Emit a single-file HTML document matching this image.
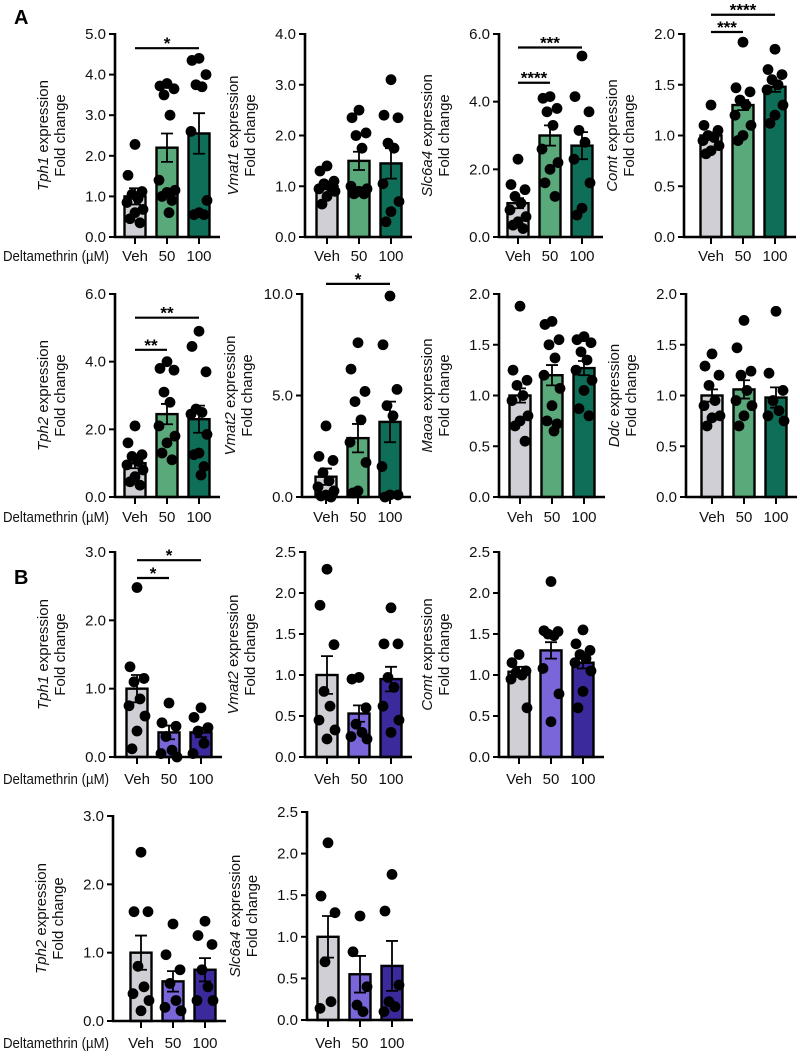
<!DOCTYPE html>
<html><head><meta charset="utf-8"><style>
html,body{margin:0;padding:0;background:#fff;}
svg{display:block;font-family:"Liberation Sans",Arial,sans-serif;}
</style></head><body>
<svg id="fig" width="800" height="1056" viewBox="0 0 800 1056">
<text x="14" y="24" font-size="20" font-weight="bold">A</text>
<text x="14" y="584" font-size="20" font-weight="bold">B</text>
</svg>
<script>
const groups = ["Veh","50","100"];
// A row 1
const tph1A_means=[1.0,2.2,2.55]; const tph1A_sem=[0.2,0.35,0.5];
const tph1A_veh=[2.28,1.52,1.12,1.05,0.95,0.85,0.68,0.6,0.45,0.35];
const tph1A_50=[3.78,3.72,3.65,3.5,3.0,1.4,1.15,1.1,1.0,0.9,0.6];
const tph1A_100=[4.4,4.35,4.0,3.75,3.7,2.6,0.9,0.6,0.55,0.55];
const vmat1A_means=[1.0,1.5,1.45]; const vmat1A_sem=[0.06,0.18,0.3];
const vmat1A_veh=[1.4,1.3,1.1,1.05,1.0,0.95,0.9,0.8,0.65];
const vmat1A_50=[2.5,2.35,2.05,2.0,1.75,1.0,0.95,0.9,0.85,0.85];
const vmat1A_100=[3.1,2.4,2.35,1.85,1.75,1.05,0.7,0.5,0.3];
const slcA_means=[1.0,3.0,2.7]; const slcA_sem=[0.15,0.3,0.4];
const slcA_veh=[2.3,1.55,1.4,1.2,1.0,0.8,0.6,0.45,0.35,0.25];
const slcA_50=[4.15,4.1,3.8,3.7,3.3,2.6,2.2,2.0,1.6,1.2];
const slcA_100=[5.35,4.15,3.7,3.15,2.8,2.3,1.6,0.85,0.65];
const comtA_means=[1.0,1.3,1.48]; const comtA_sem=[0.03,0.05,0.05];
const comtA_veh=[1.3,1.1,1.05,1.0,0.98,0.95,0.9,0.85,0.82];
const comtA_50=[1.92,1.47,1.43,1.35,1.3,1.2,1.1,1.0,0.95];
const comtA_100=[1.85,1.65,1.6,1.55,1.5,1.45,1.3,1.2,1.12];
// A row 2
const tph2A_means=[1.0,2.45,2.3]; const tph2A_sem=[0.15,0.3,0.4];
const tph2A_veh=[2.1,1.6,1.25,1.2,1.05,0.95,0.8,0.6,0.45,0.35];
const tph2A_50=[4.0,3.8,3.75,3.1,2.8,2.1,1.8,1.6,1.3,1.1];
const tph2A_100=[4.9,4.45,3.7,2.6,2.5,2.45,1.85,1.3,1.25,0.9,0.65];
const vmat2A_means=[1.0,2.9,3.7]; const vmat2A_sem=[0.4,0.7,1.0];
const vmat2A_veh=[3.5,2.0,1.8,1.2,0.8,0.5,0.3,0.1,0.05,0.0];
const vmat2A_50=[7.6,6.3,5.2,4.7,3.8,2.7,1.7,0.3,0.2];
const vmat2A_100=[9.9,7.5,5.3,4.5,4.0,1.5,0.1,0.1,0.0];
const maoaA_means=[1.0,1.2,1.27]; const maoaA_sem=[0.07,0.1,0.07];
const maoaA_veh=[1.88,1.25,1.15,1.1,1.0,0.95,0.8,0.75,0.7,0.55];
const maoaA_50=[1.73,1.7,1.55,1.5,1.37,1.2,1.07,0.9,0.75,0.72,0.65];
const maoaA_100=[1.58,1.55,1.52,1.43,1.35,1.25,1.15,1.05,0.87,0.8];
const ddcA_means=[1.0,1.06,0.98]; const ddcA_sem=[0.06,0.09,0.1];
const ddcA_veh=[1.41,1.29,1.2,1.1,0.95,0.9,0.8,0.78,0.7];
const ddcA_50=[1.74,1.47,1.24,1.2,1.05,0.95,0.9,0.8,0.7];
const ddcA_100=[1.83,1.22,1.05,0.95,0.85,0.8,0.75];
// B row 1
const tph1B_means=[1.0,0.36,0.36]; const tph1B_sem=[0.2,0.1,0.07];
const tph1B_veh=[2.48,1.32,1.15,1.1,0.85,0.75,0.6,0.38,0.12];
const tph1B_50=[0.79,0.5,0.45,0.3,0.1,0.05,0.0];
const tph1B_100=[0.72,0.58,0.43,0.38,0.2,0.05];
const vmat2B_means=[1.0,0.53,0.95]; const vmat2B_sem=[0.23,0.1,0.15];
const vmat2B_veh=[2.29,1.85,1.37,0.8,0.62,0.45,0.33,0.22];
const vmat2B_50=[0.97,0.95,0.6,0.4,0.3,0.25,0.22];
const vmat2B_100=[1.82,1.38,1.38,0.97,0.85,0.62,0.45,0.3];
const comtB_means=[1.04,1.3,1.15]; const comtB_sem=[0.06,0.1,0.07];
const comtB_veh=[1.25,1.15,1.05,1.03,1.0,0.95,0.6];
const comtB_50=[2.14,1.54,1.53,1.5,1.48,1.08,0.77,0.43];
const comtB_100=[1.55,1.38,1.3,1.25,1.2,1.15,1.05,0.8,0.6];
// B row 2
const tph2B_means=[1.0,0.58,0.75]; const tph2B_sem=[0.25,0.15,0.17];
const tph2B_veh=[2.47,1.6,1.6,0.8,0.5,0.4,0.3,0.15];
const tph2B_50=[1.42,0.97,0.75,0.55,0.3,0.2,0.15];
const tph2B_100=[1.46,1.25,1.12,0.75,0.5,0.3,0.3];
const slcB_means=[1.0,0.55,0.65]; const slcB_sem=[0.25,0.22,0.3];
const slcB_veh=[2.13,1.49,1.29,0.7,0.22,0.14];
const slcB_50=[1.25,0.82,0.4,0.18,0.1];
const slcB_100=[1.75,1.31,0.42,0.22,0.16,0.1];
// significance: [from, to, level, stars]
const tph1A_sig=[[0,2,4.65,"*"]];
const slcA_sig=[[0,1,4.56,"****"],[0,2,5.6,"***"]];
const comtA_sig=[[0,1,2.02,"***"],[0,2,2.19,"****"]];
const tph2A_sig=[[0,1,4.35,"**"],[0,2,5.3,"**"]];
const vmat2A_sig=[[0,2,10.5,"*"]];
const tph1B_sig=[[0,1,2.62,"*"],[0,2,2.88,"*"]];

const colA=["#cfcfd5","#5aa97a","#0f6e58"];
const colB=["#cfcfd5","#7a66d9","#3a2a9c"];
const SVGNS="http://www.w3.org/2000/svg";
const svg=document.getElementById('fig');
function mk(tag,attrs,parent){const e=document.createElementNS(SVGNS,tag);for(const k in attrs)e.setAttribute(k,attrs[k]);(parent||svg).appendChild(e);return e;}

const panels=[
 {id:"tph1-a",gene:"Tph1",means:tph1A_means,sem:tph1A_sem,pts:[tph1A_veh,tph1A_50,tph1A_100],max:5,step:1,dec:1,sig:tph1A_sig,ax:115,c0:135,top:34,zero:237,lab:256,cols:colA,dm:true},
 {id:"vmat1-a",gene:"Vmat1",means:vmat1A_means,sem:vmat1A_sem,pts:[vmat1A_veh,vmat1A_50,vmat1A_100],max:4,step:1,dec:1,sig:[],ax:305,c0:327,top:34,zero:237,lab:256,cols:colA},
 {id:"slc6a4-a",gene:"Slc6a4",means:slcA_means,sem:slcA_sem,pts:[slcA_veh,slcA_50,slcA_100],max:6,step:2,dec:1,sig:slcA_sig,ax:499,c0:518,top:34,zero:237,lab:256,cols:colA},
 {id:"comt-a",gene:"Comt",means:comtA_means,sem:comtA_sem,pts:[comtA_veh,comtA_50,comtA_100],max:2,step:0.5,dec:1,sig:comtA_sig,ax:684,c0:711,top:34,zero:237,lab:256,cols:colA},
 {id:"tph2-a",gene:"Tph2",means:tph2A_means,sem:tph2A_sem,pts:[tph2A_veh,tph2A_50,tph2A_100],max:6,step:2,dec:1,sig:tph2A_sig,ax:115,c0:135,top:294,zero:497,lab:517,cols:colA,dm:true},
 {id:"vmat2-a",gene:"Vmat2",means:vmat2A_means,sem:vmat2A_sem,pts:[vmat2A_veh,vmat2A_50,vmat2A_100],max:10,step:5,dec:1,sig:vmat2A_sig,ax:302,c0:326,top:294,zero:497,lab:517,cols:colA},
 {id:"maoa-a",gene:"Maoa",means:maoaA_means,sem:maoaA_sem,pts:[maoaA_veh,maoaA_50,maoaA_100],max:2,step:0.5,dec:1,sig:[],ax:499,c0:520,top:294,zero:497,lab:517,cols:colA},
 {id:"ddc-a",gene:"Ddc",means:ddcA_means,sem:ddcA_sem,pts:[ddcA_veh,ddcA_50,ddcA_100],max:2,step:0.5,dec:1,sig:[],ax:686,c0:712,top:294,zero:497,lab:517,cols:colA},
 {id:"tph1-b",gene:"Tph1",means:tph1B_means,sem:tph1B_sem,pts:[tph1B_veh,tph1B_50,tph1B_100],max:3,step:1,dec:1,sig:tph1B_sig,ax:115,c0:137,top:552,zero:757,lab:779,cols:colB,dm:true},
 {id:"vmat2-b",gene:"Vmat2",means:vmat2B_means,sem:vmat2B_sem,pts:[vmat2B_veh,vmat2B_50,vmat2B_100],max:2.5,step:0.5,dec:1,sig:[],ax:305,c0:327,top:552,zero:757,lab:779,cols:colB},
 {id:"comt-b",gene:"Comt",means:comtB_means,sem:comtB_sem,pts:[comtB_veh,comtB_50,comtB_100],max:2.5,step:0.5,dec:1,sig:[],ax:499,c0:519,top:552,zero:757,lab:779,cols:colB},
 {id:"tph2-b",gene:"Tph2",means:tph2B_means,sem:tph2B_sem,pts:[tph2B_veh,tph2B_50,tph2B_100],max:3,step:1,dec:1,sig:[],ax:113,c0:141,top:816,zero:1021,lab:1043,cols:colB,dm:true},
 {id:"slc6a4-b",gene:"Slc6a4",means:slcB_means,sem:slcB_sem,pts:[slcB_veh,slcB_50,slcB_100],max:2.5,step:0.5,dec:1,sig:[],ax:307,c0:328,top:812,zero:1020,lab:1043,cols:colB}
];
const jit=[0,-7,7,-3,3,-8,8,0,-5,5,2,-2];
const SP=32, BW=21, FS=15;

panels.forEach(p=>{
  const g=mk('g',{});
  
  
  const y=v=>p.zero-(v/p.max)*(p.zero-p.top);
  const xc=i=>p.c0+i*SP;
  const axEnd=xc(2)+21;
  p.means.forEach((m,i)=>{
    const r=mk('rect',{x:xc(i)-BW/2,y:y(m),width:BW,height:p.zero-y(m),fill:p.cols[i],stroke:'#000','stroke-width':2.4},g);
    
    
  });
  p.pts.forEach((arr,i)=>{
    arr.forEach((v,k)=>{
      const c=mk('circle',{cx:xc(i)+jit[k%jit.length],cy:y(v),r:5.4,fill:'#000'},g);
      
      
    });
  });
  p.means.forEach((m,i)=>{
    const s=p.sem[i], x=xc(i);
    const e=mk('path',{d:`M${x},${y(m-s)}V${y(m+s)}M${x-6},${y(m+s)}H${x+6}M${x-6},${y(m-s)}H${x+6}`,stroke:'#000','stroke-width':1.8,fill:'none'},g);
    
    
  });
  const ya=mk('path',{d:`M${p.ax},${p.top-1}V${p.zero}`,stroke:'#000','stroke-width':2.6,fill:'none'},g);
  
  
  const xa=mk('path',{d:`M${p.ax-1},${p.zero}H${axEnd}`,stroke:'#000','stroke-width':2.6,fill:'none'},g);
  
  
  for(let v=0; v<=p.max+1e-9; v+=p.step){
    mk('path',{d:`M${p.ax-6},${y(v)}H${p.ax}`,stroke:'#000','stroke-width':2},g);
    const t=mk('text',{x:p.ax-9,y:y(v)+5,'font-size':FS,'text-anchor':'end',fill:'#111'},g);
    t.textContent=v.toFixed(p.dec);
    
    
  }
  groups.forEach((gname,i)=>{
    mk('path',{d:`M${xc(i)},${p.zero}V${p.zero+7}`,stroke:'#000','stroke-width':2},g);
    const t=mk('text',{x:xc(i),y:p.lab+5,'font-size':FS,'text-anchor':'middle',fill:'#111'},g);
    t.textContent=gname;
    
    
  });
  const cy=(p.top+p.zero)/2;
  const t1=mk('text',{x:p.ax-67,y:cy,'font-size':FS,'text-anchor':'middle',transform:`rotate(-90 ${p.ax-67} ${cy})`,fill:'#111'},g);
  t1.innerHTML=`<tspan font-style="italic">${p.gene}</tspan> expression`;
  
  
  const t2=mk('text',{x:p.ax-50,y:cy,'font-size':FS,'text-anchor':'middle',transform:`rotate(-90 ${p.ax-50} ${cy})`,fill:'#111'},g);
  t2.textContent='Fold change';
  
  
  if(p.dm){
    const d=mk('text',{x:3,y:p.lab+5,'font-size':FS,fill:'#111',textLength:106,lengthAdjust:'spacingAndGlyphs'},g);
    d.textContent='Deltamethrin (\u00B5M)';
    
    
  }
  p.sig.forEach(s=>{
    const yy=y(s[2]);
    const l=mk('path',{d:`M${xc(s[0])},${yy}H${xc(s[1])}`,stroke:'#000','stroke-width':2.2},g);
    
    
    const st=mk('text',{x:(xc(s[0])+xc(s[1]))/2,y:yy+1,'font-size':17,'font-weight':'bold','text-anchor':'middle'},g);
    st.textContent=s[3];
    
    
  });
});
</script>
</body></html>
